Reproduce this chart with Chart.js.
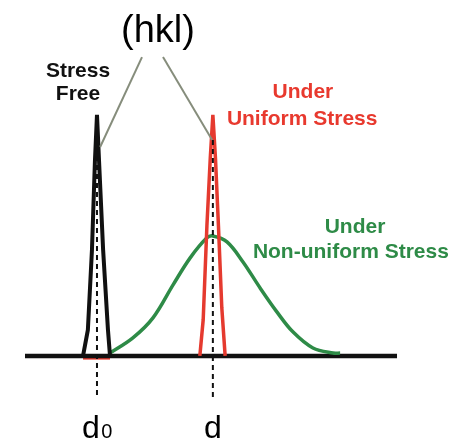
<!DOCTYPE html>
<html>
<head>
<meta charset="utf-8">
<title>(hkl) peak shift</title>
<script src="https://cdn.jsdelivr.net/npm/chart.js@4"></script>
<style>
    body { margin: 0; background: #fff; }
    canvas { display: block; }
</style>
</head>
<body>
<canvas id="peakChart" width="461" height="441"></canvas>
<script>
// d-spacing axis in arbitrary units (0 = left end of baseline, 100 = right end)
const baselineX = [0, 100];
const baselineY = [0, 0];

// stress free peak at d0
const freeX = [15.6, 16.9, 18.0, 18.8, 19.35, 19.9, 21.0, 22.3, 22.85];
const freeY = [0, 10.8, 44, 81, 100, 81, 44, 10.8, 0];

// uniform stress: same shape, shifted to d
const uniformX = [47.0, 47.9, 48.9, 49.8, 50.5, 51.2, 52.0, 52.9, 53.8];
const uniformY = [0, 15, 54, 82, 100, 82, 54, 20, 0];

// non-uniform stress: broadened peak around d
const nonUniformX = [22.85, 29.0, 34.4, 39.8, 44.4, 48.9, 50.5, 54.3, 58.6, 63.2, 67.7, 72.0, 77.4, 82.8, 84.7];
const nonUniformY = [1.2, 7.5, 15.8, 29.5, 40.7, 49.0, 49.8, 47.3, 39.0, 28.2, 18.3, 10.0, 3.3, 1.2, 1.2];

// peak positions
const d0 = 19.35;
const d = 50.5;

function toPoints(xs, ys) {
    return xs.map((x, i) => ({ x: x, y: ys[i] }));
}

// text labels placed in data units
const labels = [
    { text: '(hkl)', x: 35.75, y: 130.3, font: '38px "Liberation Sans", Arial', color: '#000', align: 'center' },
    { text: 'Stress', x: 14.25, y: 115.8, font: 'bold 21px "Liberation Sans", Arial', color: '#111', align: 'center' },
    { text: 'Free', x: 14.25, y: 106.2, font: 'bold 21px "Liberation Sans", Arial', color: '#111', align: 'center' },
    { text: 'Under', x: 74.7, y: 107.1, font: 'bold 21px "Liberation Sans", Arial', color: '#e8392e', align: 'center' },
    { text: 'Uniform Stress', x: 74.5, y: 95.9, font: 'bold 21px "Liberation Sans", Arial', color: '#e8392e', align: 'center' },
    { text: 'Under', x: 88.7, y: 51.0, font: 'bold 21px "Liberation Sans", Arial', color: '#2e8b47', align: 'center' },
    { text: 'Non-uniform Stress', x: 87.6, y: 40.7, font: 'bold 21px "Liberation Sans", Arial', color: '#2e8b47', align: 'center' },
    { text: 'd', x: 17.7, y: -34.0, font: '32px "Liberation Sans", Arial', color: '#000', align: 'center' },
    { text: '0', x: 22.0, y: -34.0, font: '20px "Liberation Sans", Arial', color: '#000', align: 'center' },
    { text: 'd', x: 50.5, y: -34.0, font: '32px "Liberation Sans", Arial', color: '#000', align: 'center' }
];

const labelPlugin = {
    id: 'labelPlugin',
    afterDatasetsDraw(chart) {
        const ctx = chart.ctx;
        const xScale = chart.scales.x;
        const yScale = chart.scales.y;
        ctx.save();
        labels.forEach(l => {
            ctx.font = l.font;
            ctx.fillStyle = l.color;
            ctx.textAlign = l.align;
            ctx.textBaseline = 'alphabetic';
            ctx.fillText(l.text, xScale.getPixelForValue(l.x), yScale.getPixelForValue(l.y));
        });
        ctx.restore();
    }
};

const line = (data, color, width, extra) => Object.assign({
    data: data,
    borderColor: color,
    borderWidth: width,
    pointRadius: 0,
    showLine: true,
    fill: false,
    tension: 0
}, extra || {});

const ctx = document.getElementById('peakChart').getContext('2d');
new Chart(ctx, {
    type: 'scatter',
    data: {
        datasets: [
            // dashed markers at d0 and d
            line([{ x: d0, y: 86.7 }, { x: d0, y: -17 }], '#111', 2, { borderDash: [5, 4] }),
            line([{ x: d, y: 89.6 }, { x: d, y: -17 }], '#111', 2, { borderDash: [5, 4] }),
            // leader lines from (hkl)
            line([{ x: 31.45, y: 124 }, { x: 20.2, y: 86.7 }], '#868d7c', 2),
            line([{ x: 37.1, y: 124 }, { x: 50.3, y: 89.6 }], '#868d7c', 2),
            line(toPoints(freeX, freeY), '#111', 4),
            line(toPoints(uniformX, uniformY), '#e53a2f', 3.5),
            line(toPoints(nonUniformX, nonUniformY), '#2e8b47', 3.5, { tension: 0.35 }),
            line(toPoints(baselineX, baselineY), '#111', 4.5),
            line([{ x: freeX[0], y: -0.7 }, { x: freeX[freeX.length - 1], y: -0.7 }], '#e53a2f', 4)
        ]
    },
    options: {
        responsive: false,
        animation: false,
        devicePixelRatio: 1,
        layout: { padding: 0 },
        plugins: {
            legend: { display: false },
            tooltip: { enabled: false }
        },
        scales: {
            x: { type: 'linear', min: -6.72, max: 117.2, display: false },
            y: { type: 'linear', min: -35.3, max: 147.7, display: false }
        }
    },
    plugins: [labelPlugin]
});
</script>
</body>
</html>
